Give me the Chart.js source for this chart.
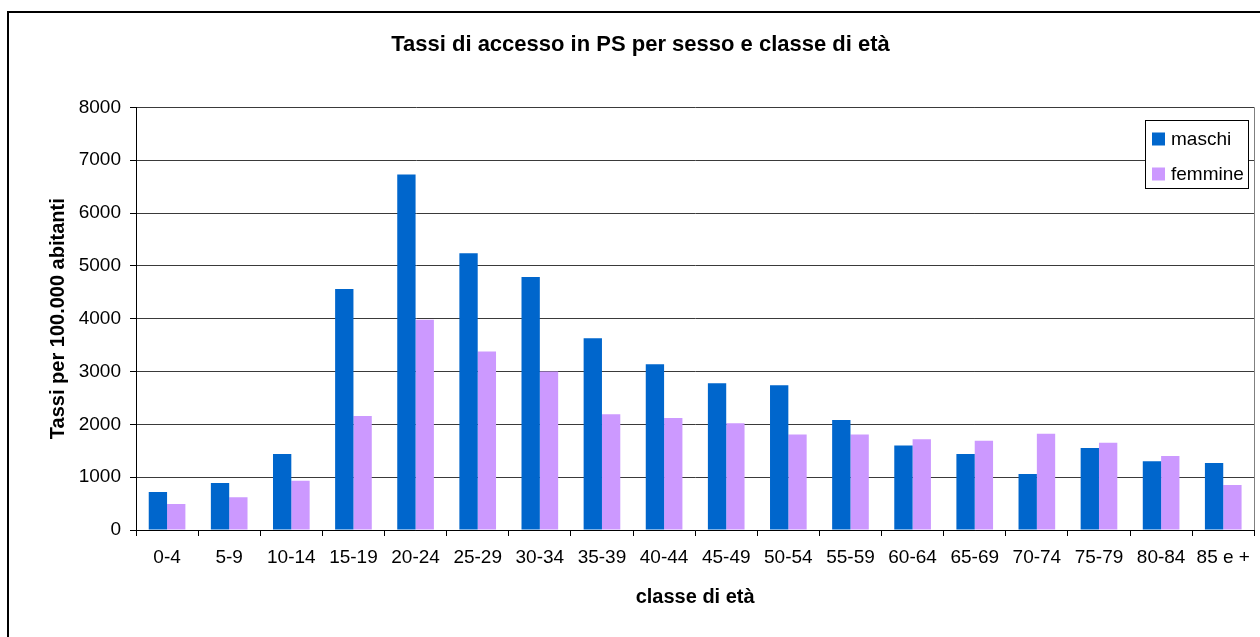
<!DOCTYPE html>
<html>
<head>
<meta charset="utf-8">
<script src="https://cdn.jsdelivr.net/npm/chart.js@4.4.1/dist/chart.umd.min.js"></script>
<style>
  html, body { margin: 0; padding: 0; background: #ffffff; }
  #wrap { position: relative; width: 1260px; height: 637px; }
</style>
</head>
<body>
<div id="wrap"><canvas id="c" width="1260" height="637"></canvas></div>
<script>
const categories = ["0-4","5-9","10-14","15-19","20-24","25-29","30-34","35-39","40-44","45-49","50-54","55-59","60-64","65-69","70-74","75-79","80-84","85 e +"];
const maschi   = [720, 890, 1440, 4560, 6730, 5240, 4790, 3630, 3140, 2780, 2740, 2080, 1600, 1440, 1060, 1550, 1300, 1270];
const femmine  = [490, 620, 930, 2160, 3980, 3380, 3000, 2190, 2120, 2020, 1810, 1810, 1720, 1690, 1820, 1650, 1400, 850];
const seriesNames = ["maschi", "femmine"];
const yTicks = [0, 1000, 2000, 3000, 4000, 5000, 6000, 7000, 8000];
const titleText = "Tassi di accesso in PS per sesso e classe di età";
const xTitle = "classe di età";
const yTitle = "Tassi per 100.000 abitanti";

const FONT = "'Liberation Sans', Arial, sans-serif";

const decor = {
  id: 'decor',
  beforeDraw(chart) {
    const ctx = chart.ctx;
    ctx.save();
    ctx.strokeStyle = '#000';
    ctx.lineWidth = 2;
    ctx.beginPath();
    ctx.moveTo(8, 640);
    ctx.lineTo(8, 12);
    ctx.lineTo(1262, 12);
    ctx.stroke();
    ctx.restore();
  },
  afterDraw(chart) {
    const ctx = chart.ctx;
    const a = chart.chartArea;
    ctx.save();
    ctx.strokeStyle = '#808080';
    ctx.lineWidth = 1;
    ctx.beginPath();
    ctx.moveTo(Math.round(a.right) + 0.5, a.top);
    ctx.lineTo(Math.round(a.right) + 0.5, a.bottom);
    ctx.stroke();
    const bx = 1145.5, by = 120.5, bw = 103, bh = 68;
    ctx.fillStyle = '#fff';
    ctx.fillRect(bx, by, bw, bh);
    ctx.strokeStyle = '#000';
    ctx.strokeRect(bx, by, bw, bh);
    ctx.font = "19px " + FONT;
    ctx.textBaseline = 'middle';
    ctx.textAlign = 'left';
    const rows = [138.5, 173.5];
    chart.data.datasets.forEach((ds, i) => {
      ctx.fillStyle = ds.backgroundColor;
      ctx.fillRect(1152, rows[i] - 6, 13, 13);
      ctx.fillStyle = '#000';
      ctx.fillText(ds.label, 1171, rows[i] + 1);
    });
    ctx.restore();
  }
};

new Chart(document.getElementById('c'), {
  type: 'bar',
  data: {
    labels: categories,
    datasets: [
      { label: seriesNames[0], data: maschi, backgroundColor: '#0066CC', borderWidth: 0 },
      { label: seriesNames[1], data: femmine, backgroundColor: '#CC99FF', borderWidth: 0 }
    ]
  },
  options: {
    responsive: false,
    animation: false,
    devicePixelRatio: 1,
    categoryPercentage: 0.59,
    barPercentage: 1.0,
    layout: { padding: { left: 24, right: 3, top: 0, bottom: 0 } },
    plugins: {
      legend: { display: false },
      tooltip: { enabled: false },
      title: {
        display: true,
        text: titleText,
        color: '#000',
        font: { family: FONT, size: 22, weight: 'bold', lineHeight: 1.2 },
        padding: { top: 32, bottom: 49 }
      }
    },
    scales: {
      x: {
        afterFit(s) { s.height = 107; },
        grid: { display: true, drawOnChartArea: false, drawTicks: true, tickLength: 6, color: '#000', offset: true },
        border: { display: true, color: '#000', width: 1 },
        ticks: { color: '#000', font: { family: FONT, size: 19 }, padding: 10, maxRotation: 0, autoSkip: false },
        title: { display: true, text: xTitle, color: '#000', font: { family: FONT, size: 20, weight: 'bold', lineHeight: 1.2 }, padding: { top: 0, bottom: 28 } }
      },
      y: {
        min: 0, max: 8000,
        afterFit(s) { s.width = 112; },
        afterBuildTicks(s) { s.ticks = yTicks.map(v => ({ value: v })); },
        grid: { color: '#3a3a3a', lineWidth: 1, drawTicks: true, tickLength: 6, tickColor: '#000' },
        border: { display: true, color: '#000', width: 1 },
        ticks: { color: '#000', font: { family: FONT, size: 19 }, padding: 9, callback: v => String(v) },
        title: { display: true, text: yTitle, color: '#000', font: { family: FONT, size: 20, weight: 'bold', lineHeight: 1.2 }, padding: { top: 22, bottom: 0 } }
      }
    }
  },
  plugins: [decor]
});
</script>
</body>
</html>
